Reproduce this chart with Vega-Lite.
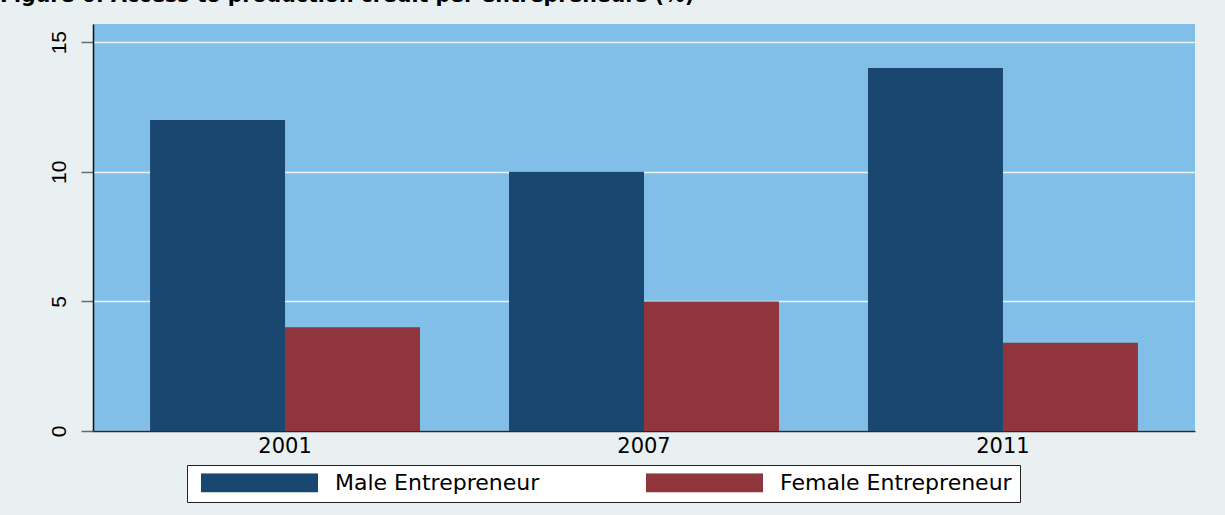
{
  "$schema": "https://vega.github.io/schema/vega-lite/v6.json",
  "autosize": {"type": "none"},
  "width": 1102,
  "height": 407,
  "padding": {"left": 93, "top": 24, "right": 30, "bottom": 84},
  "background": "#e9f0f2",
  "title": {
    "text": "Figure 6: Access to production credit per entrepreneurs (%)",
    "anchor": "start",
    "frame": "group",
    "dx": -93,
    "offset": 2,
    "baseline": "alphabetic",
    "font": "DejaVu Sans",
    "fontSize": 20.5,
    "fontWeight": "bold",
    "color": "#000000"
  },
  "data": {
    "values": [
      {"year": "2001", "group": "Male Entrepreneur", "value": 12},
      {"year": "2001", "group": "Female Entrepreneur", "value": 4},
      {"year": "2007", "group": "Male Entrepreneur", "value": 10},
      {"year": "2007", "group": "Female Entrepreneur", "value": 5},
      {"year": "2011", "group": "Male Entrepreneur", "value": 14},
      {"year": "2011", "group": "Female Entrepreneur", "value": 3.4}
    ]
  },
  "mark": {"type": "bar"},
  "encoding": {
    "x": {
      "field": "year",
      "type": "nominal",
      "scale": {"paddingInner": 0.248, "paddingOuter": 0.159},
      "axis": {
        "title": null,
        "labelAngle": 0,
        "ticks": false,
        "grid": false,
        "domainColor": "#2a2a2a",
        "domainWidth": 1.5,
        "labelFont": "DejaVu Sans",
        "labelFontSize": 21,
        "labelColor": "#000000",
        "labelPadding": 4
      }
    },
    "xOffset": {
      "field": "group",
      "type": "nominal",
      "sort": ["Male Entrepreneur", "Female Entrepreneur"]
    },
    "y": {
      "field": "value",
      "type": "quantitative",
      "scale": {"domain": [0, 15.7], "nice": false, "zero": true},
      "axis": {
        "title": null,
        "values": [0, 5, 10, 15],
        "labelAngle": 270,
        "labelAlign": "center",
        "labelBaseline": "bottom",
        "labelPadding": 12,
        "labelFont": "Liberation Sans",
        "labelFontSize": 21,
        "labelColor": "#000000",
        "tickSize": 12,
        "tickColor": "#6a6a6a",
        "tickWidth": 1.5,
        "domainColor": "#111111",
        "domainWidth": 1.5,
        "grid": true,
        "gridColor": "#eaf2f3",
        "gridWidth": 1.5
      }
    },
    "color": {
      "field": "group",
      "type": "nominal",
      "sort": ["Male Entrepreneur", "Female Entrepreneur"],
      "scale": {
        "domain": ["Male Entrepreneur", "Female Entrepreneur"],
        "range": ["#1a476f", "#90353b"]
      },
      "legend": {
        "title": null,
        "orient": "none",
        "legendX": 94,
        "legendY": 441,
        "direction": "horizontal",
        "fillColor": "#ffffff",
        "strokeColor": "#222222",
        "padding": 8,
        "symbolType": "M-1,-0.1624H1V0.1624H-1Z",
        "symbolSize": 13689,
        "symbolStrokeWidth": 0,
        "symbolOpacity": 1,
        "clipHeight": 19,
        "symbolOffset": 6,
        "labelOffset": 17,
        "columnPadding": 100,
        "labelFont": "DejaVu Sans",
        "labelFontSize": 22,
        "labelColor": "#000000",
        "labelLimit": 400
      }
    }
  },
  "config": {
    "view": {"fill": "#81bfe8", "stroke": null}
  }
}
